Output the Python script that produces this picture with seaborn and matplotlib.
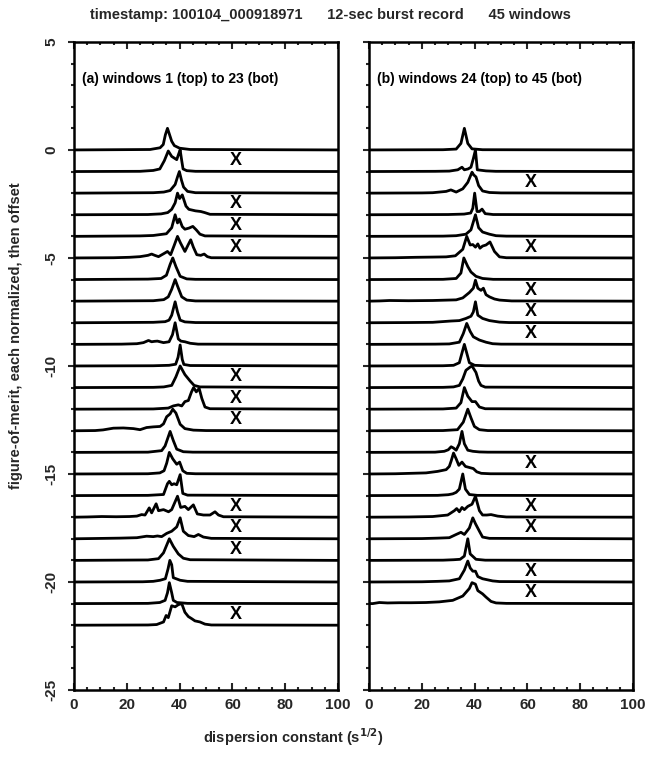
import matplotlib
matplotlib.use("Agg")
import matplotlib.pyplot as plt
from matplotlib.ticker import MultipleLocator
import seaborn as sns
import pandas as pd

# ---------------- data ----------------
title_text = "timestamp: 100104_000918971      12-sec burst record      45 windows"
panel_labels = ["(a) windows 1 (top) to 23 (bot)", "(b) windows 24 (top) to 45 (bot)"]
panel_first_window = [1, 24]
flagged_windows = [2, 4, 5, 6, 12, 13, 14, 18, 19, 20, 23,
                   26, 29, 31, 32, 33, 39, 41, 42, 44, 45]
x_ticks = [0, 20, 40, 60, 80, 100]
y_ticks = [5, 0, -5, -10, -15, -20, -25]

# each trace: (dispersion constant, normalized figure-of-merit) pairs
traces_a = [
    [(0, 0), (28.8, 0.02), (32.6, 0.1), (33.8, 0.25), (34.6, 0.7), (35.4, 1.0), (36.2, 0.7), (37, 0.4), (38, 0.2), (40, 0.08), (44, 0.02), (100, 0)],
    [(0, 0), (25, 0.01), (30, 0.05), (32.5, 0.12), (34.2, 0.5), (35.7, 0.95), (37, 0.7), (38.9, 0.55), (39.6, 0.8), (40.2, 1.0), (40.8, 0.5), (41.3, 0.12), (42.7, 0.04), (46, 0.01), (100, 0)],
    [(0, 0), (30, 0.02), (34, 0.05), (36.4, 0.12), (38.3, 0.4), (39.2, 0.75), (39.9, 1.0), (40.7, 0.6), (41.5, 0.28), (43, 0.08), (46, 0.02), (100, 0)],
    [(0, 0), (28, 0.01), (33, 0.04), (35.5, 0.1), (37, 0.25), (38.3, 0.55), (39.2, 1.0), (40.0, 0.75), (41.0, 0.92), (42.4, 0.4), (43.5, 0.25), (46, 0.18), (48, 0.15), (49.5, 0.1), (51.5, 0.02), (100, 0)],
    [(0, 0), (25, 0.02), (30, 0.04), (35, 0.12), (37, 0.4), (38.3, 1.0), (39.2, 0.62), (39.9, 0.8), (41, 0.45), (42, 0.33), (43.5, 0.38), (45, 0.46), (46.3, 0.3), (47.7, 0.1), (49.6, 0.02), (100, 0)],
    [(0, 0), (15, 0.01), (21, 0.03), (25, 0.06), (28, 0.12), (29.4, 0.18), (30.6, 0.12), (32, 0.06), (34, 0.2), (35.4, 0.3), (36.6, 0.15), (38, 0.6), (39.2, 1.0), (40.3, 0.7), (42, 0.3), (43.2, 0.6), (44.2, 0.84), (45.2, 0.5), (46.5, 0.15), (48, 0.12), (49.3, 0.18), (50.5, 0.06), (52, 0.01), (100, 0)],
    [(0, 0), (28, 0.02), (33, 0.05), (35, 0.2), (36.4, 0.7), (37.4, 1.0), (38.6, 0.6), (40.2, 0.15), (42.7, 0.03), (46, 0.01), (100, 0)],
    [(0, 0), (30, 0.02), (34, 0.07), (35.7, 0.2), (37, 0.55), (38.3, 1.0), (39.2, 0.7), (40.8, 0.2), (42.7, 0.05), (46, 0.01), (100, 0)],
    [(0, 0), (30, 0.02), (34.5, 0.05), (36, 0.12), (37, 0.35), (38.3, 0.97), (39.2, 0.5), (40.2, 0.12), (42, 0.04), (46, 0.01), (100, 0)],
    [(0, 0), (18, 0.01), (23.8, 0.03), (26.3, 0.08), (28.2, 0.18), (29.4, 0.12), (30.5, 0.14), (31.6, 0.15), (33.9, 0.08), (36, 0.12), (37.3, 0.45), (38.3, 1.0), (39.5, 0.25), (40.5, 0.15), (42, 0.12), (44, 0.05), (47, 0.01), (100, 0)],
    [(0, 0), (30, 0.01), (36, 0.03), (38.5, 0.08), (39.4, 0.4), (40.2, 0.97), (41.0, 0.3), (41.6, 0.07), (44, 0.02), (100, 0)],
    [(0, 0), (30, 0.01), (34, 0.03), (37, 0.1), (38.6, 0.5), (40.2, 1.0), (42, 0.6), (44, 0.3), (45.5, 0.1), (47.7, 0.03), (100, 0)],
    [(0, 0), (30, 0.01), (35.7, 0.05), (37.6, 0.15), (39.5, 0.2), (40.8, 0.15), (42, 0.35), (43.3, 0.4), (44.5, 0.8), (45.3, 1.0), (46.3, 0.8), (47.4, 0.96), (48.4, 0.5), (49.6, 0.1), (51.5, 0.02), (100, 0)],
    [(0, 0), (8, 0.01), (11, 0.04), (14.9, 0.12), (18.7, 0.13), (22.5, 0.1), (25, 0.05), (27.5, 0.15), (30, 0.18), (32.6, 0.2), (33.9, 0.32), (35.1, 0.65), (36.4, 0.78), (37.4, 1.0), (38.6, 0.82), (40.2, 0.3), (42, 0.1), (45.2, 0.03), (50, 0.01), (100, 0)],
    [(0, 0), (28, 0.01), (33.2, 0.08), (34.5, 0.3), (36.4, 0.97), (37.6, 0.55), (38.9, 0.15), (41.4, 0.03), (45, 0.01), (100, 0)],
    [(0, 0), (28, 0.01), (32.5, 0.05), (34.1, 0.15), (35.1, 0.5), (36.1, 1.0), (37.4, 0.7), (38.9, 0.45), (40.0, 0.55), (41.2, 0.15), (42.7, 0.03), (46, 0.01), (100, 0)],
    [(0, 0), (28, 0.01), (33.9, 0.05), (35.4, 0.55), (36.1, 0.66), (37, 0.5), (37.9, 0.55), (38.9, 0.5), (40.2, 0.97), (41.2, 0.1), (43, 0.02), (100, 0)],
    [(0, 0), (5, 0.01), (10.5, 0.03), (16, 0.02), (21, 0.03), (23.8, 0.05), (25.6, 0.12), (26.9, 0.1), (28.5, 0.43), (29.4, 0.2), (31.1, 0.62), (32, 0.3), (33.9, 0.35), (35.8, 0.25), (37, 0.35), (39.2, 0.97), (40.4, 0.45), (42, 0.5), (43.3, 0.35), (45.2, 0.57), (46.7, 0.15), (49, 0.1), (51.5, 0.1), (53.4, 0.25), (54.7, 0.1), (56.6, 0.02), (100, 0)],
    [(0, 0), (6, 0.01), (17.4, 0.03), (23.8, 0.05), (27.5, 0.12), (30, 0.1), (31.6, 0.13), (33.2, 0.1), (35.1, 0.25), (37, 0.35), (38.9, 0.55), (40.2, 0.97), (41.4, 0.35), (43.3, 0.15), (45.5, 0.1), (47.1, 0.2), (49, 0.08), (52, 0.02), (100, 0)],
    [(0, 0), (28, 0.02), (32, 0.08), (33.9, 0.35), (36.1, 1.0), (37.6, 0.65), (39.5, 0.3), (41.4, 0.1), (44, 0.03), (100, 0)],
    [(0, 0), (26, 0.01), (30, 0.03), (32.6, 0.08), (34.6, 0.15), (35.6, 0.6), (36.3, 1.0), (37, 0.8), (37.6, 0.2), (40.2, 0.08), (43, 0.03), (100, 0)],
    [(0, 0), (28, 0.01), (32.5, 0.05), (34.5, 0.15), (35.4, 0.5), (36.1, 0.97), (37, 0.5), (37.6, 0.15), (39, 0.05), (43, 0.01), (100, 0)],
    [(0, 0), (28, 0.01), (31.3, 0.03), (33.9, 0.15), (34.9, 0.45), (35.7, 0.35), (37, 0.9), (38.3, 0.85), (39.5, 0.95), (40.8, 1.0), (42, 0.6), (43.3, 0.4), (44.6, 0.3), (45.8, 0.2), (47.7, 0.15), (49.6, 0.05), (52, 0.01), (100, 0)],
]

traces_b = [
    [(0, 0), (28, 0.01), (33, 0.04), (34.8, 0.3), (36.1, 1.0), (37.4, 0.3), (39, 0.05), (43, 0.01), (100, 0)],
    [(0, 0), (25, 0.01), (30.4, 0.02), (33.6, 0.08), (35.2, 0.2), (36.1, 0.08), (37.5, 0.12), (38.6, 0.2), (39.5, 0.6), (40.3, 1.0), (41.0, 0.08), (44.3, 0.03), (48, 0.01), (100, 0)],
    [(0, 0), (20, 0.01), (24.1, 0.02), (29.2, 0.08), (31, 0.15), (33, 0.05), (35.5, 0.2), (37.4, 0.5), (39, 0.97), (39.6, 0.85), (40.5, 0.75), (41.5, 0.35), (43, 0.1), (45.6, 0.03), (50, 0.01), (100, 0)],
    [(0, 0), (30, 0.01), (36, 0.03), (38.5, 0.08), (39.3, 0.3), (40, 1.0), (40.9, 0.15), (41.8, 0.15), (42.8, 0.26), (44, 0.05), (47, 0.01), (100, 0)],
    [(0, 0), (28, 0.01), (33, 0.03), (36.7, 0.1), (38.6, 0.3), (40.3, 1.0), (41.5, 0.4), (43, 0.2), (45.6, 0.1), (48.1, 0.03), (52, 0.01), (100, 0)],
    [(0, 0), (10, 0.01), (17.8, 0.03), (24, 0.04), (29.2, 0.05), (32.7, 0.1), (35.5, 0.4), (37, 1.0), (38.3, 0.6), (39.3, 0.62), (40.3, 0.5), (41.2, 0.65), (42, 0.45), (43, 0.55), (44.3, 0.6), (45.8, 0.74), (47.5, 0.3), (49.4, 0.05), (52, 0.01), (100, 0)],
    [(0, 0), (28, 0.01), (33, 0.05), (34.8, 0.3), (35.9, 1.0), (37.4, 0.6), (38.6, 0.35), (40.5, 0.15), (43, 0.05), (47, 0.01), (100, 0)],
    [(0, 0), (4, 0.01), (7.7, 0.03), (15, 0.02), (24.1, 0.03), (33, 0.06), (35.5, 0.15), (38, 0.4), (39.5, 0.6), (40.3, 0.97), (41.2, 0.6), (42.4, 0.5), (43.3, 0.6), (44.3, 0.3), (45.6, 0.2), (47.5, 0.1), (49.4, 0.05), (54, 0.01), (100, 0)],
    [(0, 0), (15, 0.01), (24.1, 0.02), (31, 0.08), (34.2, 0.1), (36.7, 0.2), (38.6, 0.3), (39.5, 0.5), (40.3, 0.97), (41.2, 0.35), (43, 0.2), (45.6, 0.1), (49.4, 0.03), (53, 0.01), (100, 0)],
    [(0, 0), (25, 0.01), (30.4, 0.02), (34.2, 0.1), (35.7, 0.5), (37, 0.97), (38.3, 0.6), (39.5, 0.35), (41.8, 0.2), (44.3, 0.1), (46.8, 0.03), (50, 0.01), (100, 0)],
    [(0, 0), (28, 0.01), (32, 0.03), (34.2, 0.15), (35.2, 0.6), (36.1, 1.0), (37, 0.6), (38, 0.15), (40, 0.03), (44, 0.01), (100, 0)],
    [(0, 0), (28, 0.01), (32, 0.03), (34.2, 0.1), (35.5, 0.4), (36.7, 0.8), (38.3, 0.95), (39, 1.0), (40.5, 0.7), (41.5, 0.3), (42.4, 0.1), (44, 0.02), (100, 0)],
    [(0, 0), (28, 0.01), (33, 0.05), (34.8, 0.3), (36.1, 1.0), (37.4, 0.6), (39, 0.35), (40.3, 0.35), (41.8, 0.1), (44, 0.02), (100, 0)],
    [(0, 0), (28, 0.01), (33.5, 0.05), (35.7, 0.4), (37.4, 1.0), (38.6, 0.6), (39.9, 0.2), (41.8, 0.05), (45, 0.01), (100, 0)],
    [(0, 0), (25, 0.01), (28.5, 0.05), (30, 0.12), (31.1, 0.26), (32, 0.2), (33, 0.1), (34.2, 0.4), (35.2, 0.97), (36.1, 0.4), (37.4, 0.1), (39.3, 0.05), (41.8, 0.02), (45, 0.01), (100, 0)],
    [(0, 0), (10, 0.01), (21.6, 0.05), (26, 0.12), (29.2, 0.2), (30.4, 0.35), (31.1, 0.6), (32, 0.97), (33, 0.7), (34, 0.4), (35.2, 0.55), (36.5, 0.35), (38, 0.3), (39.5, 0.25), (40.8, 0.1), (42.5, 0.03), (46, 0.01), (100, 0)],
    [(0, 0), (26, 0.01), (30, 0.04), (31.7, 0.08), (33, 0.15), (34.2, 0.3), (35.5, 1.0), (36.5, 0.3), (38, 0.05), (41, 0.01), (100, 0)],
    [(0, 0), (15, 0.01), (24.1, 0.03), (29.8, 0.1), (32.3, 0.3), (33.2, 0.4), (34.2, 0.25), (35.2, 0.45), (36.1, 0.35), (37.4, 0.5), (39, 0.6), (40.3, 0.97), (41.8, 0.3), (43, 0.1), (44.6, 0.1), (46.2, 0.12), (48.7, 0.05), (52, 0.01), (100, 0)],
    [(0, 0), (20, 0.01), (26, 0.03), (30.4, 0.05), (33, 0.2), (34.8, 0.3), (36.1, 0.2), (38, 0.5), (39.3, 0.97), (40.3, 0.7), (41.8, 0.35), (43, 0.08), (45.6, 0.02), (100, 0)],
    [(0, 0), (28, 0.01), (32, 0.03), (34.5, 0.05), (36.1, 0.2), (37.4, 1.0), (38.3, 0.3), (40.5, 0.05), (44, 0.01), (100, 0)],
    [(0, 0), (20, 0.01), (26, 0.03), (30.4, 0.05), (34.2, 0.15), (36.1, 0.55), (37.4, 0.97), (38.3, 0.65), (39.3, 0.5), (40.3, 0.5), (41.2, 0.25), (43, 0.15), (44.9, 0.1), (46.8, 0.05), (49.4, 0.02), (100, 0)],
    [(0, 0), (1.4, 0.0), (3.9, 0.05), (7, 0.03), (11.5, 0.04), (16, 0.04), (21.6, 0.05), (26.6, 0.08), (31.7, 0.15), (35.5, 0.35), (38, 0.7), (39, 0.97), (40.3, 0.9), (41.2, 0.6), (43, 0.45), (44.3, 0.3), (46.2, 0.1), (48.1, 0.03), (52, 0.01), (100, 0)],
]

# ---------------- style ----------------
sns.set_theme(style="ticks")
plt.rcParams["font.family"] = ["Liberation Sans", "DejaVu Sans"]
plt.rcParams["font.weight"] = "bold"
plt.rcParams["axes.labelweight"] = "bold"
plt.rcParams["axes.unicode_minus"] = False

DPI = 100
fig = plt.figure(figsize=(6.52, 7.58), dpi=DPI)
ax_a = fig.add_axes([0.1135, 0.0897, 0.405, 0.855])
ax_b = fig.add_axes([0.566, 0.0897, 0.405, 0.855])


def build_frame(traces, first_window):
    rows = []
    for i, tr in enumerate(traces):
        for dc, fom in tr:
            rows.append({"window": first_window + i, "dc": dc, "y": fom - i})
    return pd.DataFrame(rows)


for ax, traces, first, label in zip([ax_a, ax_b], [traces_a, traces_b],
                                    panel_first_window, panel_labels):
    df = build_frame(traces, first)
    sns.lineplot(data=df, x="dc", y="y", units="window", estimator=None,
                 sort=False, color="black", lw=2.0, ax=ax)
    for i in range(len(traces)):
        if first + i in flagged_windows:
            ax.text(61.3, -i + 0.5, "X", ha="center", va="center",
                    fontsize=13, fontweight="bold", color="black")
    ax.text(3, 3.3, label, ha="left", va="center", fontsize=10,
            fontweight="bold", color="black")
    ax.set_xlim(0, 100)
    ax.set_ylim(-25, 5)
    ax.set_xticks(x_ticks)
    ax.xaxis.set_minor_locator(MultipleLocator(5))
    ax.set_yticks(y_ticks)
    ax.yaxis.set_minor_locator(MultipleLocator(1))
    ax.tick_params(axis="x", which="both", direction="in", top=True,
                   bottom=True, width=1.5, labelsize=11, pad=6)
    ax.tick_params(axis="x", which="major", length=5)
    ax.tick_params(axis="x", which="minor", length=2.5)
    ax.tick_params(axis="y", which="both", direction="out", left=True,
                   right=False, width=1.5, labelsize=11)
    ax.tick_params(axis="y", which="major", length=4)
    ax.tick_params(axis="y", which="minor", length=2.5)
    for s in ax.spines.values():
        s.set_linewidth(1.8)
        s.set_color("black")
    ax.set_xlabel("")
    ax.set_ylabel("")
    for t in ax.get_xticklabels() + ax.get_yticklabels():
        t.set_fontweight("bold")

for t in ax_a.get_yticklabels():
    t.set_rotation(90)
    t.set_va("center")
ax_a.tick_params(axis="y", pad=7)
ax_b.tick_params(axis="y", labelleft=False)

fig.text(0.507, 0.98, title_text, ha="center", va="center", fontsize=10.5,
         fontweight="bold")
fig.text(0.45, 0.027, "dispersion constant (s$^{\\mathbf{1/2}}$)", ha="center",
         va="center", fontsize=10.5, fontweight="bold")
fig.text(0.024, 0.557, "figure-of-merit, each normalized, then offset",
         ha="center", va="center", rotation=90, fontsize=10.5, fontweight="bold")

fig.savefig("out.png", dpi=DPI)
